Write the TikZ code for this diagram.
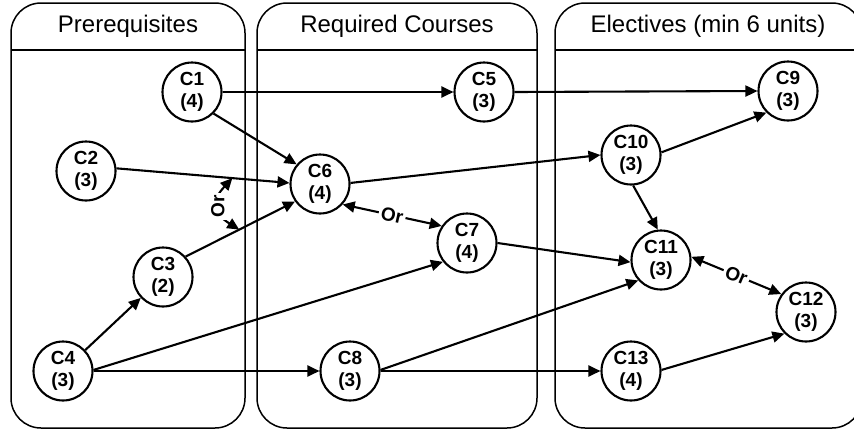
\documentclass[tikz,border=0pt]{standalone}
\usepackage{fontspec}
\setmainfont{Liberation Sans}
\usetikzlibrary{arrows.meta,calc}

\begin{document}
\begin{tikzpicture}[
    x=1pt, y=-1pt,
    course/.style={circle,draw,line width=2.1pt,minimum size=59pt,inner sep=0pt,
      font=\fontsize{19}{22}\selectfont\bfseries,align=center},
    lane/.style={draw,line width=1.5pt,rounded corners=30pt},
    lanetitle/.style={font=\fontsize{24}{28}\selectfont},
    link/.style={-{Triangle[length=12pt,width=11pt]},line width=2.1pt},
    orlink/.style={{Triangle[length=12pt,width=11pt]}-{Triangle[length=12pt,width=11pt]},line width=2.1pt},
    orlbl/.style={fill=white,inner sep=2.5pt,font=\fontsize{19}{22}\selectfont\bfseries},
  ]
  \useasboundingbox (0,0) rectangle (854,432);
  \clip (0,0) rectangle (854,432);
  % Lanes
  \draw[lane] (11,428) rectangle (245,3);
  \draw[line width=2pt] (11,50) -- (245,50);
  \node[lanetitle] (tpre) at (128,26) {Prerequisites};
  \draw[lane] (257,428) rectangle (537,3);
  \draw[line width=2pt] (257,50) -- (537,50);
  \node[lanetitle] (treq) at (397,26) {Required Courses};
  \draw[lane] (555,428) rectangle (862,3);
  \draw[line width=2pt] (555,50) -- (862,50);
  \node[lanetitle] (tele) at (708,26) {Electives (min 6 units)};
  % Prerequisites
  \node[course] (c1) at (192,92) {C1\\(4)};
  \node[course] (c2) at (86,171) {C2\\(3)};
  \node[course] (c3) at (163,277) {C3\\(2)};
  \node[course] (c4) at (63,371) {C4\\(3)};
  % Required courses
  \node[course] (c5) at (484,92) {C5\\(3)};
  \node[course] (c6) at (320,184) {C6\\(4)};
  \node[course] (c7) at (467,243) {C7\\(4)};
  \node[course] (c8) at (350,371) {C8\\(3)};
  % Electives
  \node[course] (c9) at (788,91) {C9\\(3)};
  \node[course] (c10) at (631,155) {C10\\(3)};
  \node[course] (c11) at (661,260) {C11\\(3)};
  \node[course] (c12) at (806,312) {C12\\(3)};
  \node[course] (c13) at (631,371) {C13\\(4)};
  % Links out of prerequisites
  \draw[link] (c1.0) -- (c5.180);
  \draw[link] (c1.-45) -- (c6.140);
  \draw[link] (c2.5) -- coordinate[pos=0.67] (orTop) (c6.178);
  \draw[link] (c3.42) -- coordinate[pos=0.49] (orBot) (c6.215);
  \draw[link] (c4) -- (c3);
  \draw[link] (c4.2) -- (c7.218);
  \draw[link] (c4.0) -- (c8.180);
  \draw[orlink] (orTop) to[out=227,in=148,looseness=1.55]
    node[orlbl,rotate=90] {Or} (orBot);
  % Links out of required courses
  \draw[link] (c5.0) -- (c9.180);
  \draw[link] (c6.2) -- (c10.180);
  \draw[orlink] (c6.-42) -- node[orlbl,sloped] {Or} (c7.146);
  \draw[link] (c7.0) -- (c11.184);
  \draw[link] (c8.2) -- (c11.222);
  \draw[link] (c8.0) -- (c13.180);
  % Links among electives
  \draw[link] (c10.5) -- (c9.225);
  \draw[link] (c10.-86) -- (c11.96);
  \draw[orlink] (c11.6) -- node[orlbl,sloped] {Or} (c12.144);
  \draw[link] (c13.2) -- (c12.225);
\end{tikzpicture}
\end{document}
